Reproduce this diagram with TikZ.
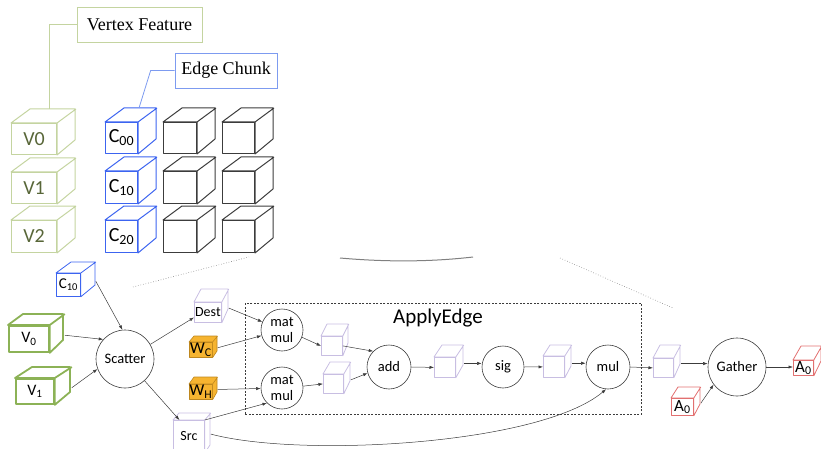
\documentclass[tikz,border=0pt]{standalone}
\usepackage{fontspec}
\setmainfont{Liberation Serif}
\newfontfamily\sansc{Carlito}
\usetikzlibrary{calc,arrows.meta}

\definecolor{vlight}{RGB}{196,212,160}
\definecolor{vtext}{RGB}{88,102,56}
\definecolor{vstrong}{RGB}{140,178,86}
\definecolor{cblue}{RGB}{60,100,240}
\definecolor{cbluelight}{RGB}{125,155,240}
\definecolor{lav}{RGB}{200,190,226}
\definecolor{wfill}{RGB}{246,180,48}
\definecolor{wdraw}{RGB}{190,135,30}
\definecolor{ared}{RGB}{226,112,112}
\definecolor{dark}{RGB}{60,60,60}

% cube: front face is a named node, top and right faces drawn from its anchors
% #1 style, #2 name, #3 x, #4 y (front top-left), #5 width, #6 height, #7 dx, #8 dy, #9 label
\newcommand\cubenode[9]{%
  \node[#1, anchor=north west, minimum width=#5pt, minimum height=#6pt, inner sep=0pt] (#2) at (#3,#4) {#9};
  \draw[#1] (#2.north west) -- ++(#7,-#8) -- ++(#5,0) -- ++(0,#6) -- (#2.south east)
        -- (#2.north east) -- cycle (#2.north east) -- ++(#7,-#8);
  \coordinate (#2-o) at ($(#2.east)+(#7,-#8/3)$);
}

\tikzset{
  labelbox/.style={draw, line width=0.7pt, inner sep=0pt, font=\fontsize{18}{18}\selectfont},
  vtop/.style={draw=vlight, line width=1pt, line join=round, text=vtext, font=\sansc\fontsize{20}{20}\selectfont},
  ctop/.style={draw=cblue, line width=1pt, line join=round, font=\sansc\fontsize{20}{20}\selectfont},
  btop/.style={draw=dark, line width=1pt, line join=round},
  vlow/.style={draw=vstrong, line width=1.8pt, line join=round, font=\sansc\fontsize{16}{16}\selectfont},
  clow/.style={draw=cblue, line width=0.8pt, line join=round, font=\sansc\fontsize{15}{15}\selectfont},
  lavcube/.style={draw=lav, line width=0.8pt, line join=round, font=\sansc\fontsize{14}{14}\selectfont},
  wcube/.style={draw=wdraw, fill=wfill, line width=0.6pt, line join=round, font=\sansc\fontsize{17}{17}\selectfont},
  acube/.style={draw=ared, line width=0.8pt, line join=round, font=\sansc\fontsize{17}{17}\selectfont},
  op/.style={draw=dark, circle, line width=0.6pt, inner sep=0pt, align=center,
    font=\sansc\fontsize{14.5}{16}\selectfont},
  flow/.style={draw=dark, line width=0.5pt, -{Latex[length=4.5pt,width=3.2pt]}},
  guide/.style={draw=gray, line width=0.6pt, dotted},
}

\begin{document}
\begin{tikzpicture}[x=1pt,y=-1pt]
\useasboundingbox (0,0) rectangle (821,449);

% ---- legend boxes
\node[labelbox, draw=vlight, minimum width=125pt, minimum height=35pt] (vf) at (139.5,24.5) {Vertex Feature};
\node[labelbox, draw=cbluelight, minimum width=102pt, minimum height=35pt] (ec) at (226,70.5) {Edge Chunk};

% ---- vertex features
\cubenode{vtop}{v0}{11}{123}{45}{31}{19}{14}{V0}
\cubenode{vtop}{v1}{11}{172}{45}{31}{19}{14}{V1}
\cubenode{vtop}{v2}{11}{220}{45}{32}{19}{14}{V2}

% ---- edge chunks
\cubenode{ctop}{c00}{105}{122}{32}{31}{19}{14}{C\textsubscript{00}}
\cubenode{ctop}{c10}{105}{171}{32}{32}{19}{14}{C\textsubscript{10}}
\cubenode{ctop}{c20}{105}{220}{32}{32}{19}{14}{C\textsubscript{20}}
\cubenode{btop}{c01}{163}{122}{33}{31}{19}{14}{}
\cubenode{btop}{c11}{163}{171}{33}{32}{19}{14}{}
\cubenode{btop}{c21}{163}{220}{33}{32}{19}{14}{}
\cubenode{btop}{c02}{222}{122}{32}{31}{19}{14}{}
\cubenode{btop}{c12}{222}{171}{32}{32}{19}{14}{}
\cubenode{btop}{c22}{222}{220}{32}{32}{19}{14}{}

% ---- leader lines
\coordinate (vftip) at (49,109);
\coordinate (ectip) at (139,108);
\draw[vlight, line width=0.8pt] (vf.west) -| (vftip);
\draw[cbluelight, line width=0.8pt] (ec.west) -- ++(-24,0) -- (ectip);

% ---- zoom guides
\draw[guide] (133,287) -- (249,257);
\draw[gray, line width=1pt] (340,258) .. controls (385,262) and (430,262) .. (473,257);
\draw[guide] (560,258) -- (673,308);

% ---- ApplyEdge frame
\node[draw=dark, dash pattern=on 2pt off 1.5pt, line width=0.6pt, inner sep=0pt,
      minimum width=396pt, minimum height=111pt, anchor=north west] (frame) at (245,303) {};
\node[font=\sansc\fontsize{21}{21}\selectfont] (ae) at (438,318) {ApplyEdge};

% ---- inputs
\cubenode{clow}{c10s}{56}{273}{24}{23}{15}{11}{C\textsubscript{10}}
\cubenode{vlow}{v0s}{8}{325}{40}{26}{15}{11}{V\textsubscript{0}}
\cubenode{vlow}{v1s}{15}{378}{38}{25}{17}{11}{V\textsubscript{1}}

\node[op, minimum size=58pt] (scatter) at (125,359) {Scatter};

\cubenode{lavcube}{dest}{194}{302}{27}{20}{7}{13}{Dest}
\cubenode{wcube}{wc}{189}{342}{23}{15}{5}{6}{W\textsubscript{C}}
\cubenode{wcube}{wh}{189}{384}{23}{15}{5}{7}{W\textsubscript{H}}
\cubenode{lavcube}{src}{173}{420}{31}{32}{6}{7}{Src}

\node[op, minimum size=42pt] (mm1) at (282,330) {mat\\mul};
\node[op, minimum size=42pt] (mm2) at (282,388) {mat\\mul};
\cubenode{lavcube}{q1}{321}{336}{21}{19}{6}{12}{}
\cubenode{lavcube}{q2}{323}{374}{20}{19}{7}{12}{}
\node[op, minimum size=44pt] (add) at (389,367) {add};
\cubenode{lavcube}{q3}{434}{357}{21}{20}{8}{12}{}
\node[op, minimum size=42pt] (sig) at (503,367) {sig};
\cubenode{lavcube}{q4}{543}{356}{21}{21}{7}{11}{}
\node[op, minimum size=44pt] (mul) at (608,367) {mul};
\cubenode{lavcube}{q5}{653}{358}{20}{19}{7}{13}{}
\node[op, minimum size=58pt] (gather) at (737,367) {Gather};
\cubenode{acube}{a0out}{793}{360}{20}{15}{8}{14}{A\textsubscript{0}}
\cubenode{acube}{a0in}{671}{398}{22}{17}{7}{11}{A\textsubscript{0}}

% ---- data flow
\draw[flow] (c10s-o) -- (scatter.95);
\draw[flow] (v0s-o) -- (scatter.138);
\draw[flow] (v1s-o) -- (scatter.200);
\draw[flow] (scatter.30) -- (dest.200);
\draw[flow] (scatter.-48) -- (src.120);

\draw[flow] (dest-o) -- (mm1);
\draw[flow] (wc-o) -- (mm1);
\draw[flow] (wh-o) -- (mm2);
\draw[flow] (src.north east) -- (mm2.225);

\draw[flow] (mm1.-20) -- (q1.west);
\draw[flow] (mm2.5) -- (q2.west);
\draw[flow] (q1.east) -- (add.135);
\draw[flow] (q2-o) -- (add.196);
\draw[flow] (add.east) -- (q3.west);
\draw[flow] (q3-o) -- (sig.west |- q3-o);
\draw[flow] (sig.east) -- (q4.west);
\draw[flow] (q4-o) -- (mul.west |- q4-o);
\draw[flow] (mul.east) -- (q5.west);
\draw[flow] (q5-o) -- (gather.west |- q5-o);
\draw[flow] (gather.east) -- (a0out.west |- gather.east);
\draw[flow] (a0in-o) -- (gather.217);

\draw[flow] (src-o) .. controls (300,458) and (540,445) .. (mul.-95);
\end{tikzpicture}
\end{document}
